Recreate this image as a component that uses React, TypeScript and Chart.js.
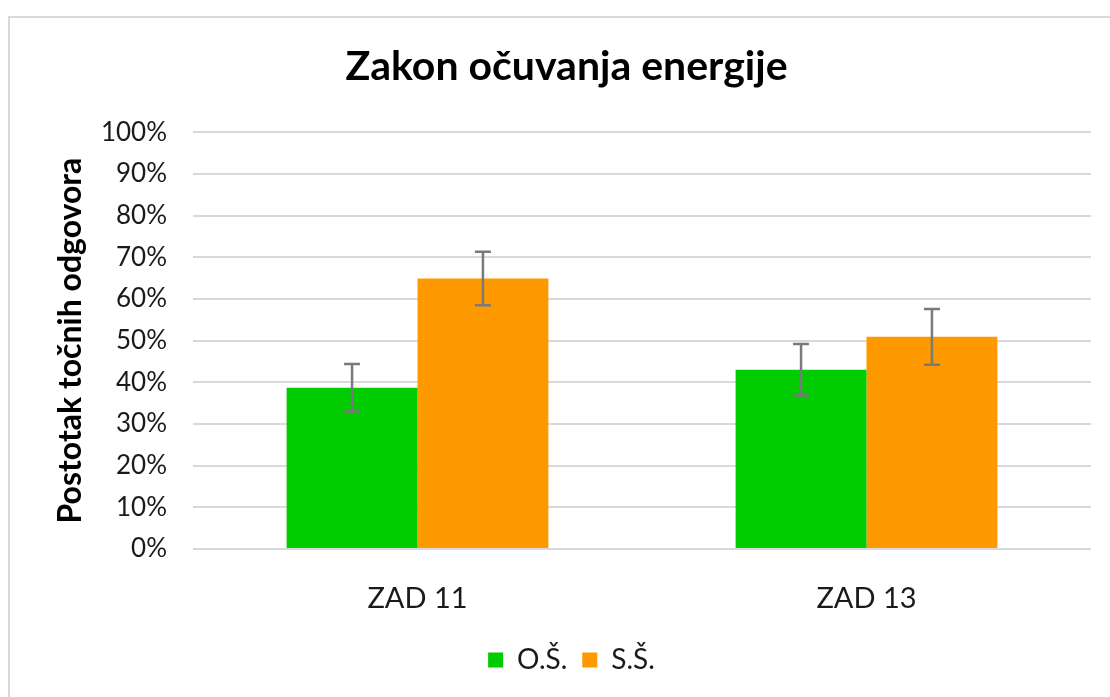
import React, { useEffect, useRef } from "react";
import { Chart, registerables } from "chart.js";

Chart.register(...registerables);

const categories = ["ZAD 11", "ZAD 13"];
const seriesNames = ["O.Š.", "S.Š."];
const osValues = [38.7, 43.0];
const osErrors = [5.7, 6.2];
const ssValues = [64.9, 50.9];
const ssErrors = [6.4, 6.7];
const yTicks = [0, 10, 20, 30, 40, 50, 60, 70, 80, 90, 100];

const errorsByDataset = [osErrors, ssErrors];

const errorBarPlugin = {
  id: "errorBars",
  afterDatasetsDraw(chart: any) {
    const ctx = chart.ctx;
    const yScale = chart.scales.y;
    ctx.save();
    ctx.strokeStyle = "#7a7a7a";
    ctx.lineWidth = 2.5;
    chart.data.datasets.forEach((ds: any, di: number) => {
      const meta = chart.getDatasetMeta(di);
      meta.data.forEach((bar: any, i: number) => {
        const v = ds.data[i];
        const e = errorsByDataset[di][i];
        const x = bar.x;
        const yTop = yScale.getPixelForValue(v + e);
        const yBot = yScale.getPixelForValue(v - e);
        const cap = 8;
        ctx.beginPath();
        ctx.moveTo(x, yTop);
        ctx.lineTo(x, yBot);
        ctx.moveTo(x - cap, yTop);
        ctx.lineTo(x + cap, yTop);
        ctx.moveTo(x - cap, yBot);
        ctx.lineTo(x + cap, yBot);
        ctx.stroke();
      });
    });
    ctx.restore();
  },
};

const boxShiftPlugin = {
  id: "boxShift",
  afterLayout(chart: any) {
    const lg = chart.legend;
    if (lg) {
      lg.left += 26;
      lg.right += 26;
      lg.top -= 13;
      lg.bottom -= 13;
      if (lg.adjustHitBoxes) lg.adjustHitBoxes();
    }
    const tt = chart.titleBlock;
    if (tt) {
      tt.left += 21;
      tt.right += 21;
    }
  },
};

export default function App() {
  const ref = useRef<HTMLCanvasElement>(null);
  useEffect(() => {
    if (!ref.current) return;
    const chart = new Chart(ref.current, {
      type: "bar",
      data: {
        labels: categories,
        datasets: [
          {
            label: seriesNames[0],
            data: osValues,
            backgroundColor: "#00CC00",
            categoryPercentage: 0.583,
            barPercentage: 1,
          },
          {
            label: seriesNames[1],
            data: ssValues,
            backgroundColor: "#FF9900",
            categoryPercentage: 0.583,
            barPercentage: 1,
          },
        ],
      },
      options: {
        animation: false,
        responsive: false,
        maintainAspectRatio: false,
        layout: { padding: { left: 0, right: 19, top: 0, bottom: 0 } },
        plugins: {
          title: {
            display: true,
            text: "Zakon očuvanja energije",
            color: "#000000",
            font: { family: "Lato", size: 41, weight: "bold" },
            padding: { top: 42, bottom: 41 },
          },
          legend: {
            display: true,
            position: "bottom",
            labels: {
              color: "#1a1a1a",
              font: { family: "Lato", size: 28 },
              boxWidth: 15,
              boxHeight: 15,
              padding: 15,
            },
          },
          tooltip: { enabled: false },
        },
        scales: {
          x: {
            grid: { display: false },
            border: { display: false },
            afterFit(scale: any) {
              scale.height = 95;
            },
            ticks: {
              color: "#1a1a1a",
              font: { family: "Lato", size: 29 },
              padding: 24,
            },
          },
          y: {
            min: 0,
            max: 100,
            afterBuildTicks(scale: any) {
              scale.ticks = yTicks.map((v) => ({ value: v }));
            },
            afterFit(scale: any) {
              scale.width = 193;
            },
            grid: { color: "#d9d9d9", lineWidth: 2, drawTicks: false },
            border: { display: false },
            ticks: {
              color: "#1a1a1a",
              font: { family: "Lato", size: 26 },
              padding: 26,
              callback: (v: any) => v + "%",
            },
            title: {
              display: true,
              text: "Postotak točnih odgovora",
              color: "#000000",
              font: { family: "Lato", size: 32, weight: "bold" },
              padding: { top: 51, bottom: 0 },
            },
          },
        },
      },
      plugins: [errorBarPlugin, boxShiftPlugin],
    });
    return () => chart.destroy();
  }, []);

  return (
    <div
      style={{
        position: "fixed",
        left: 0,
        top: 0,
        width: 1110,
        height: 697,
        overflow: "hidden",
        background: "#ffffff",
      }}
    >
      <div
        style={{
          position: "absolute",
          left: 8,
          top: 16,
          width: 1200,
          height: 800,
          border: "2px solid #d9d9d9",
          boxSizing: "border-box",
        }}
      />
      <canvas
        ref={ref}
        width={1110}
        height={697}
        style={{ position: "absolute", left: 0, top: 0, width: 1110, height: 697 }}
      />
    </div>
  );
}
